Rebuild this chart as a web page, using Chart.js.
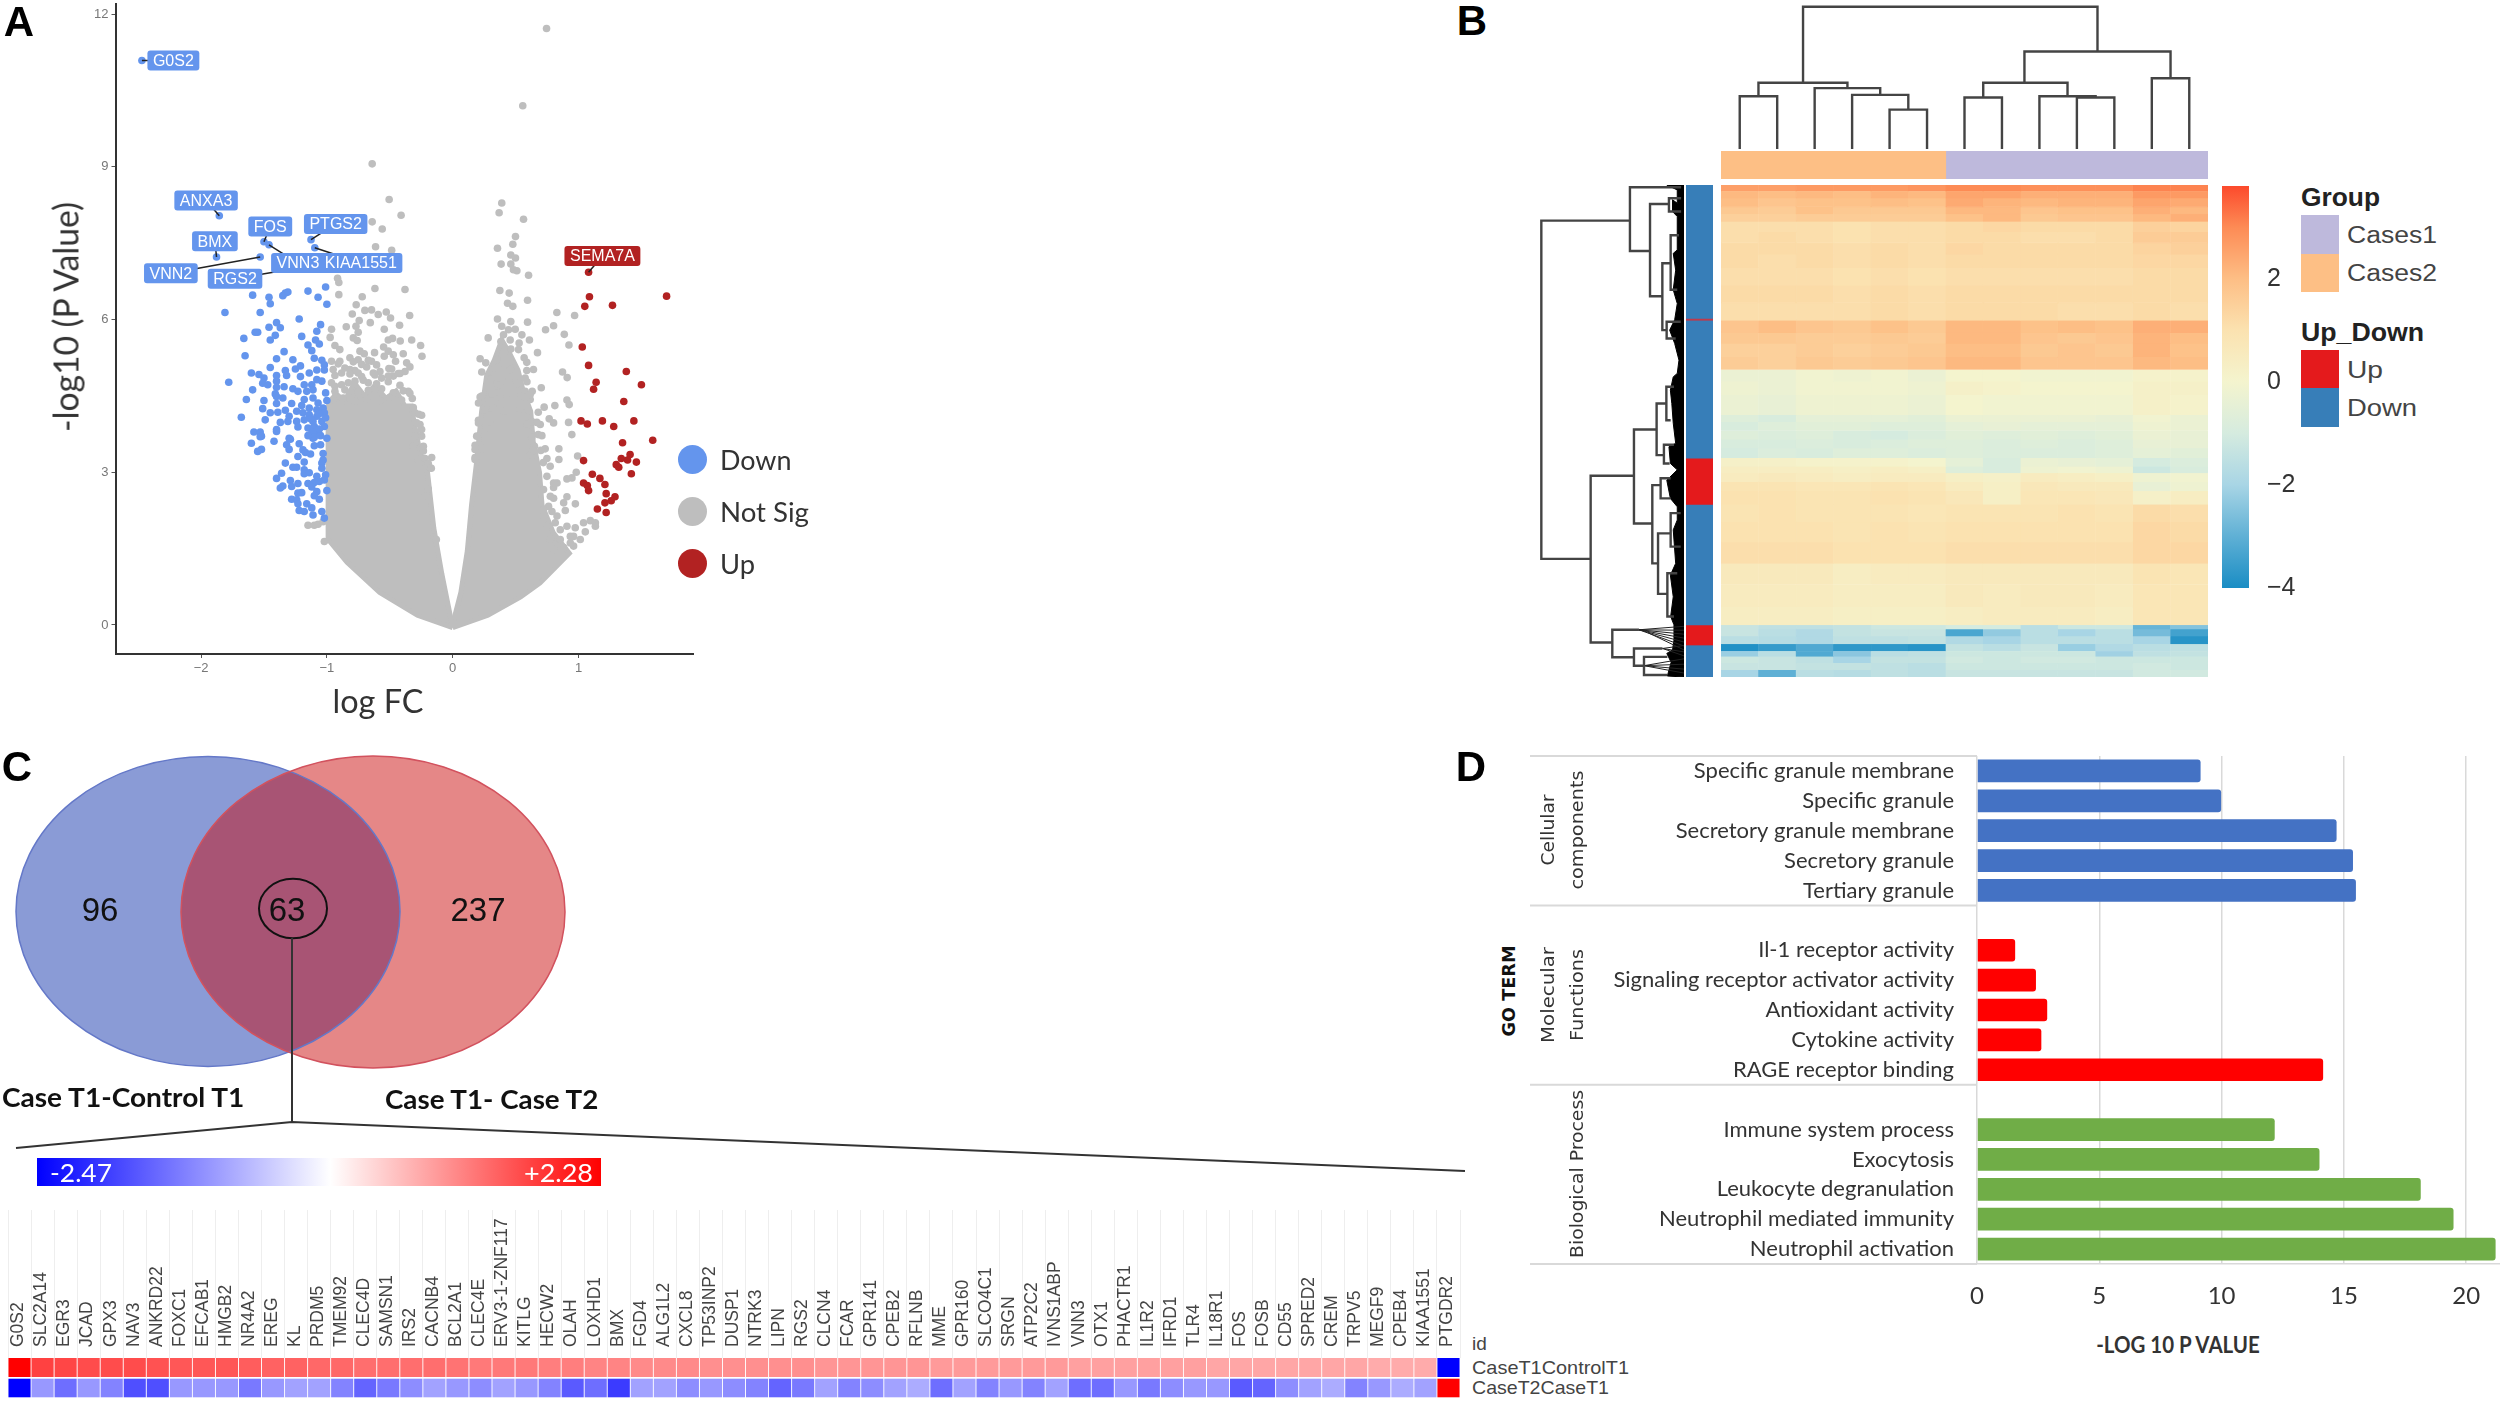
<!DOCTYPE html>
<html>
<head>
<meta charset="utf-8">
<title>Differential expression panels</title>
<script src="https://cdn.jsdelivr.net/npm/chart.js@4/dist/chart.umd.js"></script>
<style>
  body { margin: 0; background: #fff; }
  #page { position: relative; width: 2500px; height: 1401px; overflow: hidden; background: #fff; filter: blur(0.6px); }
  #page canvas { position: absolute; }
  .t { position: absolute; white-space: nowrap; line-height: 1; }
  .swatch { position: absolute; }
</style>
</head>
<body>
<div id="page"></div>
<script>
// panel A - volcano plot
const volcanoXTicks = [-2, -1, 0, 1];
const volcanoYTicks = [0, 3, 6, 9, 12];
const downPoints = [
  [-2.47,11.09],[-1.855,8.04],[-1.5,7.53],[-1.126,7.57],[-1.877,7.23],[-1.53,7.23],[-1.096,7.41],[-1.46,7.47],
  [-1.81,6.14],[-1.59,6.48],[-1.53,6.14],[-1.46,6.44],[-1.45,6.31],[-1.35,6.47],[-1.33,6.52],[-1.31,6.54],
  [-1.15,6.56],[-1.07,6.44],[-1.01,6.64],[-1,6.3],[-1.22,6.01],[-1.4,5.94],[-1.37,5.84],[-1.46,5.85],
  [-1.55,5.75],[-1.57,5.75],[-1.66,5.63],[-1.45,5.6],[-1.41,5.69],[-1.2,5.67],[-1.08,5.77],[-1.05,5.9],
  [-1.09,5.6],[-1.06,5.52],[-1.15,5.5],[-1.12,5.39],[-1.34,5.37],[-1.65,5.29],[-1.4,5.23],[-1.27,5.21],
  [-1.1,5.24],[-1.04,5.2],[-1.02,5.11],[-1.45,5.06],[-1.21,5.09],[-1.25,5.03],[-1.33,5],[-1.6,4.95],
  [-1.54,4.92],[-1.32,4.9],[-1.5,4.85],[-1.4,4.9],[-1.78,4.77],[-1.14,4.95],[-1.08,5.01],[-1.02,5.01],
  [-1.21,4.88],[-1.51,4.75],[-1.47,4.72],[-1.4,4.79],[-1.4,4.67],[-1.34,4.68],[-1.59,4.62],[-1.27,4.64],
  [-1.23,4.59],[-1.18,4.72],[-1.12,4.72],[-1.08,4.82],[-1.04,4.79],[-1.11,4.62],[-1.16,4.59],[-1.41,4.54],
  [-1.4,4.49],[-1.18,4.43],[-1.64,4.43],[-1.5,4.41],[-1.35,4.46],[-1.4,4.35],[-1.28,4.35],[-1.11,4.46],
  [-1.01,4.56],[-1,4.41],[-1.2,4.31],[-1.07,4.36],[-1.51,4.25],[-1.45,4.17],[-1.39,4.18],[-1.33,4.22],
  [-1.68,4.08],[-1.49,4.03],[-1.3,4.1],[-1.24,4.2],[-1.14,4.26],[-1.08,4.23],[-1.03,4.26],[-1.19,4.17],
  [-1.14,4.13],[-1.08,4.1],[-1.02,4.17],[-1.37,3.98],[-1.31,4],[-1.24,4],[-1.18,4.03],[-1.11,4],
  [-1.04,4],[-1.01,4.07],[-1.23,3.89],[-1.15,3.87],[-1.1,3.9],[-1.4,3.84],[-1.58,3.79],[-1.53,3.79],
  [-1.52,3.71],[-1.4,3.8],[-1.12,3.77],[-1.08,3.8],[-1.3,3.67],[-1.11,3.67],[-1.53,3.7],[-1.6,3.57],
  [-1.42,3.61],[-1.55,3.41],[-1.52,3.45],[-1.29,3.65],[-1.32,3.54],[-1.3,3.45],[-1.22,3.56],[-1.11,3.78],
  [-1.1,3.69],[-1,3.67],[-1.1,3.52],[-1.05,3.54],[-1.03,3.37],[-1.19,3.44],[-1.17,3.39],[-1.13,3.36],
  [-1.23,3.31],[-1.03,3.24],[-1.33,3.18],[-1.18,3.2],[-1.04,3.18],[-1.04,3.08],[-1.27,3.1],[-1.24,3.1],
  [-1.18,3.05],[-1.36,2.98],[-1.18,2.97],[-1.14,2.99],[-1.08,2.92],[-1.4,2.88],[-1.29,2.84],[-1.01,2.95],
  [-1.02,2.85],[-1.23,2.78],[-1.15,2.78],[-1.1,2.8],[-1.06,2.82],[-1.28,2.72],[-1.12,2.71],[-1.35,2.73],
  [-1.37,2.69],[-1.08,2.62],[-1,2.64],[-1.23,2.59],[-1.2,2.6],[-1.1,2.54],[-1.28,2.47],[-1.06,2.47],
  [-1.24,2.46],[-1.23,2.38],[-1.16,2.38],[-1.12,2.3],[-1.22,2.25],[-1.18,2.23],[-1.04,2.23],[-1.11,2.16],
  [-1.02,2.1],[-1.02,3.9],[-1.05,3.72],[-1.15,3.72],[-1.06,3.85],[-1.13,4.05],[-1.06,4.15]
];
const upPoints = [
  [1.08,6.93],[1.087,6.45],[1.05,6.26],[1.27,6.28],[1.7,6.46],[1.03,5.46],[1.08,5.1],[1.38,4.98],
  [1.5,4.72],[1.14,4.77],[1.12,4.63],[1.36,4.39],[1.02,4.01],[1.07,3.95],[1.19,4.01],[1.28,3.9],
  [1.44,4.01],[1.59,3.63],[1.35,3.58],[1.04,3.23],[1.41,3.35],[1.34,3.27],[1.39,3.24],[1.46,3.2],
  [1.3,3.15],[1.32,3.1],[1.42,2.97],[1.11,2.96],[1.17,2.88],[1.21,2.76],[1.04,2.79],[1.07,2.74],
  [1.08,2.64],[1.22,2.58],[1.29,2.52],[1.26,2.44],[1.21,2.4],[1.15,2.28],[1.22,2.21]
];
const notSigPoints = [
  [0.746,11.72],[0.557,10.2],[-0.64,9.06],[-0.505,8.36],[-0.41,8.05],[-0.64,7.92],[-0.56,7.78],[-0.613,7.43],
  [-0.485,7.36],[-0.915,6.81],[-0.905,6.73],[-0.618,6.61],[-0.379,6.59],[-0.905,6.49],[-0.719,6.45],[-0.767,6.29],
  [-0.698,6.18],[-0.645,6.19],[-0.592,6.1],[-0.528,6.15],[-0.494,6.03],[-0.342,6.08],[-0.798,6.11],[-0.743,5.98],
  [-0.655,5.94],[-0.422,5.89],[-0.544,5.81],[-0.846,5.86],[-0.963,5.81],[-0.974,5.65],[-0.769,5.87],[-0.751,5.75],
  [-0.79,5.64],[-0.759,5.59],[-0.512,5.6],[-0.478,5.63],[-0.417,5.58],[-0.326,5.6],[-0.255,5.49],[-0.244,5.28],
  [-0.936,5.49],[-0.897,5.41],[-0.737,5.38],[-0.703,5.33],[-0.621,5.35],[-0.549,5.46],[-0.512,5.38],[-0.472,5.31],
  [-0.544,5.28],[-0.393,5.33],[-0.454,5.18],[-0.366,5.15],[-0.34,5.07],[-0.507,5.04],[-0.379,4.98],[-0.419,4.94],
  [-0.472,4.89],[-0.605,5.11],[-0.671,5.2],[-0.751,5.21],[-0.817,5.25],[-0.963,5.18],[-0.897,5.18],[-0.95,5.02],
  [-0.883,4.95],[-0.817,5.02],[-0.751,4.95],[-0.631,4.95],[-0.565,4.85],[-0.671,4.76],[-0.83,4.76],[-0.936,4.69],
  [-0.353,4.59],[-0.313,4.27],[-0.247,4.12],[-0.247,3.84],[-0.247,3.71],[-0.167,3.29],[-0.18,3.09],[-0.3,3.58],
  [-0.287,3.74],[-0.233,3.42],[-1.15,1.96],[-1.1,1.96],[-1.07,1.98],[-1.03,2.03],[-1.02,1.64],
  [-0.963,4.76],[-0.883,4.72],[-0.777,4.79],[-0.711,4.81],[-0.605,4.74],[-0.512,4.78],[-0.419,4.71],
  [-0.936,4.59],[-0.857,4.62],[-0.751,4.57],[-0.671,4.61],[-0.565,4.64],[-0.472,4.56],[-0.393,4.6],[-0.34,4.55],
  [-0.95,4.43],[-0.87,4.46],[-0.777,4.4],[-0.684,4.44],[-0.578,4.41],[-0.499,4.47],[-0.406,4.42],[-0.321,4.45],
  [-0.857,5.05],[-0.777,5],[-0.684,5.07],[-0.578,4.98],[-0.485,5.03],[-0.91,5.13],[-0.79,5.17],[-0.724,5.12],[-0.645,5.18],
  [-0.936,4.9],[-0.817,4.93],[-0.724,4.88],[-0.618,4.91],[-0.512,4.89],[-0.432,4.94],
  [-0.3,4.17],[-0.27,4.14],[-0.287,3.97],[-0.26,3.94],[-0.3,3.71],[-0.313,3.51],[-0.233,3.51],[-0.273,3.25],[-0.22,3.27],
  [-0.194,3.17],[-0.17,3.08],[-0.216,2.54],[-0.194,2.67],[-0.15,1.72],[-0.13,1.68],
  [0.39,8.29],[0.369,8.1],[0.563,7.97],[0.499,7.63],[0.478,7.48],[0.356,7.4],[0.462,7.27],[0.499,7.21],
  [0.385,7.09],[0.462,7.09],[0.483,6.98],[0.51,6.96],[0.603,6.87],[0.375,6.57],[0.449,6.52],[0.436,6.32],
  [0.478,6.26],[0.595,6.38],[0.828,6.14],[0.969,6.08],[0.356,6.01],[0.462,5.96],[0.595,5.95],[0.802,5.88],
  [0.738,5.8],[0.39,5.87],[0.443,5.8],[0.497,5.81],[0.887,5.71],[0.55,5.7],[0.282,5.64],[0.404,5.7],
  [0.383,5.57],[0.457,5.6],[0.528,5.54],[0.61,5.6],[0.462,5.42],[0.523,5.41],[0.924,5.5],[0.674,5.35],
  [0.568,5.25],[0.589,5.16],[0.218,5.23],[0.263,5.15],[0.35,5.21],[0.457,5.21],[0.231,4.97],[0.337,5.05],
  [0.404,5.02],[0.457,5.02],[0.642,5.02],[0.589,5],[0.873,4.97],[0.91,4.86],[0.303,4.83],[0.576,4.85],
  [0.704,4.66],[0.632,4.59],[0.576,4.59],[0.364,4.69],[0.218,4.48],[0.205,4.36],[0.908,4.42],[0.926,4.33],
  [0.727,4.28],[0.68,4.18],[0.812,4.31],[0.59,4.23],[0.616,4.43],[0.258,4.2],[0.767,4.05],[0.802,3.97],
  [0.921,3.98],[0.205,4.02],[0.696,3.94],[0.632,3.99],[0.947,3.74],[0.258,3.73],[0.63,3.74],[0.178,3.53],
  [0.68,3.74],[0.65,3.51],[0.7,3.43],[0.844,3.46],[0.616,3.35],[0.844,3.25],[0.993,3.32],[0.72,3.19],
  [0.775,3.12],[0.178,3.29],[0.982,3],[0.948,2.89],[0.908,2.87],[0.829,2.79],[0.802,2.7],[0.908,2.52],
  [0.802,2.49],[0.882,2.4],[0.975,2.38],[0.762,2.33],[0.895,2.25],[1.04,2.01],[1.094,2.05],[1.134,2.01],
  [1.134,1.94],[1.054,1.83],[0.974,1.91],[1.014,1.68],[0.935,1.74],[0.855,1.87],[0.815,2.01],[0.749,1.94],
  [0.855,1.68],[0.961,1.55],[0.882,1.52],[0.802,1.48],[0.776,1.68],[0.722,2.14],[0.789,2.23],
  [0.298,4.76],[0.377,4.72],[0.444,4.79],[0.51,4.74],[0.59,4.78],[0.231,4.5],[0.311,4.54],[0.377,4.47],[0.483,4.52],[0.576,4.48],[0.616,4.53],
  [0.258,4.23],[0.324,4.26],[0.404,4.2],[0.536,4.24],[0.603,4.21],[0.205,3.97],[0.298,3.99],[0.589,3.95],[0.669,3.98],
  [0.191,3.71],[0.258,3.73],[0.629,3.69],[0.709,3.72],[0.178,3.45],[0.245,3.47],[0.642,3.43],[0.735,3.46],[0.178,3.25],[0.749,3.27],
  [0.749,2.92],[0.802,2.79],[0.722,2.66],[0.776,2.53],[0.722,2.27],[0.829,2.14],[0.908,1.94],[0.961,1.74],[0.935,1.61]
];
// the dense grey mass of each wing, outline
const notSigLeftWing = [
  [0,-0.05],[-0.28,0.19],[-0.58,0.64],[-0.84,1.23],[-0.99,1.68],[-0.99,4.3],[-0.93,4.55],[-0.86,4.4],[-0.78,4.75],
  [-0.7,4.5],[-0.62,4.7],[-0.53,4.45],[-0.45,4.6],[-0.38,4.3],[-0.33,4.3],[-0.3,3.9],[-0.26,3.4],[-0.2,3],[-0.15,1.9],
  [-0.086,1],[-0.02,0.19],[0,-0.05]
];
const notSigRightWing = [
  [0,-0.05],[0.28,0.19],[0.54,0.55],[0.695,0.83],[0.8,1.09],[0.927,1.41],[0.8,1.81],[0.71,2.36],[0.69,3],
  [0.64,3.6],[0.62,4.2],[0.56,4.6],[0.52,5],[0.45,5.35],[0.39,5.6],[0.33,5.2],[0.27,4.9],[0.23,4.2],[0.19,3.2],[0.15,2.36],
  [0.116,1.45],[0.065,0.64],[0.013,0.14],[0,-0.05]
];
const geneNames = ["G0S2","ANXA3","FOS","PTGS2","BMX","VNN3","KIAA1551","VNN2","RGS2","SEMA7A"];
const geneBoxX = [-2.22,-1.96,-1.45,-0.93,-1.89,-1.23,-0.73,-2.24,-1.73,1.19];
const geneBoxY = [11.09,8.34,7.83,7.88,7.54,7.11,7.11,6.91,6.8,7.25];
const genePointX = [-2.47,-1.855,-1.5,-1.126,-1.877,-1.46,-1.096,-1.53,-1.38,1.08];
const genePointY = [11.09,8.04,7.53,7.57,7.23,7.47,7.41,7.23,6.95,6.93];

// panel B - clustered heat map
const heatColumns = ["s1","s2","s3","s4","s5","s6","s7","s8","s9","s10","s11","s12","s13"];
const heatRowEdges = [0,1.2,2.7,4.5,5.9,7.4,9.5,11.8,14.1,16.8,20.4,24,27.5,30,32.2,34.9,37.5,39.9,42.6,46.7,48.1,49.9,
  51.7,53.5,55.4,57.2,58.5,60.3,62.2,64.9,68.5,72.6,76.9,81.2,85.7,89.4,90.3,91.7,93.3,94.7,95.8,97.1,98.5,100];
const heatValues = [
  [2.6,2.6,2.7,2.7,2.7,2.8,3,3,2.9,2.9,2.9,3.1,3.1],
  [2.1,2,2.1,2,2.2,2.1,2.5,2.5,2.3,2.3,2.3,2.7,2.7],
  [2,1.8,1.9,1.9,2,1.9,2.4,2.2,2.1,2.2,2.2,2.5,2.4],
  [1.7,1.6,1.9,1.7,1.7,1.7,2.1,2.1,1.8,1.9,1.9,2.3,2.1],
  [1.5,1.5,1.6,1.6,1.6,1.6,1.9,2.1,1.7,1.8,1.8,2.1,2.3],
  [1.1,1.1,1.1,1,1.1,1.1,1.2,1.3,1.2,1.2,1.2,1.5,1.4],
  [1.1,1.2,1.1,1,1.1,1.1,1.2,1.2,1.1,1.1,1.2,1.6,1.6],
  [1.2,1.2,1.2,1.1,1.2,1.1,1.3,1.2,1.2,1.2,1.2,1.4,1.5],
  [1.2,1.1,1.2,1.1,1.2,1.1,1.2,1.2,1.2,1.2,1.2,1.3,1.3],
  [1.1,1.1,1.1,1,1.1,1,1.1,1.1,1.1,1.1,1.1,1.2,1.2],
  [1.2,1.2,1.2,1.1,1.2,1.1,1.2,1.2,1.2,1.2,1.2,1.2,1.2],
  [1.1,1.1,1.1,1.1,1.2,1.1,1.2,1.2,1.2,1.1,1.1,1.2,1.1],
  [1.8,2,1.8,1.7,1.9,1.7,2.1,2.1,1.9,2,1.9,2.3,2.3],
  [1.7,1.7,1.6,1.6,1.7,1.6,2.1,2.1,1.8,1.7,1.8,2.2,2],
  [1.5,1.5,1.6,1.5,1.6,1.7,2,2,1.7,1.8,1.7,2.2,1.9],
  [1.6,1.5,1.7,1.6,1.7,1.8,2.1,2.1,1.8,1.8,1.8,2.1,2],
  [-0.3,-0.3,-0.1,-0.2,-0.1,-0.3,0,0,-0.1,-0.1,-0.1,0.1,0.1],
  [-0.2,-0.3,-0.1,-0.1,-0.1,-0.2,0.2,0.1,0,0,0,0.2,0.2],
  [-0.3,-0.4,-0.2,-0.2,-0.2,-0.3,0,-0.1,-0.1,-0.1,-0.1,0.2,0.1],
  [-0.7,-0.9,-0.5,-0.5,-0.5,-0.6,-0.3,-0.3,-0.3,-0.3,-0.4,-0.1,-0.3],
  [-0.9,-0.7,-0.6,-0.6,-0.7,-0.7,-0.5,-0.4,-0.5,-0.5,-0.5,-0.2,-0.3],
  [-0.7,-0.8,-0.7,-0.9,-1,-0.8,-0.6,-0.7,-0.6,-0.7,-0.6,-0.3,-0.4],
  [-0.9,-0.9,-0.8,-0.9,-0.8,-0.7,-0.7,-0.8,-0.7,-0.8,-0.7,-0.4,-0.4],
  [-1,-0.8,-0.9,-0.7,-0.7,-0.8,-0.7,-0.8,-0.8,-0.8,-0.7,-0.5,-0.6],
  [0.2,0.2,0.1,0.1,0.1,0,-0.5,-0.9,-0.3,-0.4,-0.5,-1,-0.8],
  [0.4,0.4,0.4,0.3,0.4,0.3,-0.7,-0.9,-0.2,-0.1,-0.2,-1.2,-0.9],
  [0.5,0.6,0.5,0.4,0.5,0.5,0.3,0.2,0.5,0.4,0.3,-0.2,-0.1],
  [0.9,0.9,0.8,0.8,0.9,0.8,0.5,0.3,0.7,0.6,0.6,-0.4,-0.2],
  [1,1,0.9,0.9,1,0.9,0.7,0.3,0.8,0.8,0.7,0.2,0.4],
  [0.9,1,0.9,0.9,0.9,0.8,0.9,0.9,0.9,1,0.9,1.2,1.1],
  [1,1,1,0.9,1,0.9,1,1,1,1,1,1.3,1.2],
  [1.1,1.1,1.1,1,1,1,1.1,1.1,1.1,1.1,1.1,1.3,1.3],
  [0.6,0.6,0.6,0.4,0.5,0.5,0.6,0.6,0.6,0.6,0.6,0.9,0.8],
  [0.5,0.5,0.5,0.4,0.4,0.4,0.6,0.5,0.6,0.6,0.5,0.8,0.8],
  [0.4,0.4,0.4,0.3,0.3,0.3,0.4,0.5,0.5,0.5,0.4,0.8,0.8],
  [-1.3,-1.5,-1.5,-1.4,-1.2,-1.2,-1,-1,-1.6,-1.2,-1.2,-2.9,-2.5],
  [-1.3,-1.6,-1.8,-1.4,-1.3,-1.3,-3.3,-2.3,-1.6,-2,-1.6,-2.7,-3.4],
  [-1.6,-1.7,-1.8,-1.5,-1.5,-1.4,-1.8,-2,-1.6,-1.6,-1.6,-2,-3.8],
  [-3.9,-3.6,-3.2,-3.7,-3.7,-3.8,-1.4,-1.6,-1.3,-2.2,-1.8,-1.6,-1.5],
  [-2.2,-1.6,-3.2,-2.4,-1.6,-1.5,-1.2,-1.2,-1.2,-1.2,-2.1,-1.5,-1.4],
  [-1.2,-1.3,-1.5,-2,-1.4,-1.4,-1.1,-1.2,-1.1,-1.1,-1.2,-1.2,-1.2],
  [-1.3,-1.3,-1.4,-1.4,-1.5,-1.6,-1.2,-1.2,-1.2,-1.2,-1.2,-1.1,-1.2],
  [-2,-3,-1.6,-1.7,-1.5,-1.6,-1.3,-1.3,-1.3,-1.3,-1.3,-1.1,-1.1]
];
const heatScaleValues = [-4,-3,-2,-1,0,1,2,3,3.8];
const heatScaleColors = ["#1a8dc4","#5fb0d5","#a8d5e5","#d5ebdf","#f4f4ce","#fbe2b0","#fdbe85","#fd8b55","#fc4a2c"];
const heatScaleTicks = [-4,-2,0,2];
const groupNames = ["Cases2","Cases1"];
const groupCounts = [6,7];
const groupColors = ["#fdbf85","#beb9dc"];
const upDownEdges = [0,27.1,27.5,55.5,64.9,89.4,93.5,100];
const upDownColors = ["#377eb8","#c0394a","#377eb8","#e41a1c","#377eb8","#e41a1c","#377eb8"];
// [left leaf, right leaf, left height, right height, join height]
const colMerges = [
  [4.5,5.5,0,0,88],[3.5,5,0,88,121],[2.5,4.25,0,121,136],[0.5,1.5,0,0,118],[1,3.375,118,136,148],
  [6.5,7.5,0,0,115],[9.5,10.5,0,0,115],[8.5,10,0,115,118],[7,9.25,115,118,148],[11.5,12.5,0,0,158],
  [8.1,12,148,158,218],[2.19,10.05,148,218,318]
];
const rowMerges = [
  [7.25,76,37.7,65.1,99.5],[0.47,13.4,2,23.7,37.7],[3.86,22.6,10.5,15.1,23.7],[2.7,5.4,2,2,10.5],
  [15.9,29.5,9.3,12.1,15.1],[10.2,21.3,3.5,4.7,9.3],[27.8,31.2,2.3,5.8,12.1],[59.1,93,34.9,50,65.1],
  [49.7,68.8,19.1,22.1,34.9],[44.4,54.9,12.3,14,19.1],[41,47.8,7,9.3,12.3],[52.8,56.6,7,10,14],
  [61,76.9,16.3,18.1,22.1],[59.6,63.7,9.3,9.3,16.3],[70.8,83.1,9.3,11.6,18.1],[66.7,73.5,2.3,2.3,9.3],
  [78.9,87.7,4.7,7,11.6],[90.4,96,31.4,34.9,50],[94.2,97.7,15,27.9,34.9],[95.9,99.6,11.6,11.6,27.9]
];
// the solid black leaves of the row tree [height, row position]
const rowLeafBand = [
  [0,0],[0,100],[11.6,99.8],[9,97],[12,95.2],[8,94.5],[7,92.5],[7,89.4],
  [9.3,87.7],[7.5,83.7],[9.5,79.3],[5.8,76.9],[7.5,70.1],[4.7,68.1],[4.7,65.4],[9.5,63.7],[12,60],[4.7,57.9],
  [9.5,56.6],[10.5,53.2],[5.8,52.5],[7.5,48.4],[8.5,44.4],[9.5,41.7],[7.5,39],[4.7,38.3],[3.5,35.6],[6.5,32.2],
  [10,29.5],[6.5,27.4],[4.7,24.1],[7.5,21.3],[5.8,17.3],[7.5,13.9],[4.7,13.2],[4.7,6.4],[8,5.4],[8,3],
  [4.7,3.7],[4.7,1],[12,0],[0,0]
];
// thin leaves fanning out of the low clusters [start height, start row, end row]
const rowFanLines = [
  [31.4,90.4,89.7],[31.4,90.4,90.5],[31.4,90.4,91.3],[31.4,90.4,92.1],[31.4,90.4,92.9],[31.4,90.4,93.7],[25,91,94.5],
  [15,94.2,93.6],[15,94.2,94.9],[15,94.2,95.7],[27.9,97.7,96.3],[27.9,97.7,97.4],[27.9,97.7,98.4],[27.9,97.7,99.2]
];

// panel C - venn counts and the strip of 63 shared genes
const vennCounts = [96,63,237];
const stripGenes = ["G0S2","SLC2A14","EGR3","JCAD","GPX3","NAV3","ANKRD22","FOXC1","EFCAB1","HMGB2","NR4A2","EREG","KL","PRDM5",
  "TMEM92","CLEC4D","SAMSN1","IRS2","CACNB4","BCL2A1","CLEC4E","ERV3-1-ZNF117","KITLG","HECW2","OLAH","LOXHD1","BMX","FGD4",
  "ALG1L2","CXCL8","TP53INP2","DUSP1","NTRK3","LIPN","RGS2","CLCN4","FCAR","GPR141","CPEB2","RFLNB","MME","GPR160","SLCO4C1",
  "SRGN","ATP2C2","IVNS1ABP","VNN3","OTX1","PHACTR1","IL1R2","IFRD1","TLR4","IL18R1","FOS","FOSB","CD55","SPRED2","CREM",
  "TRPV5","MEGF9","CPEB4","KIAA1551","PTGDR2"];
const stripCaseT1 = [2.28,1.7,1.65,1.6,1.6,1.6,1.55,1.5,1.5,1.5,1.45,1.4,1.4,1.35,1.35,1.3,1.3,1.3,1.3,1.25,1.2,1.2,1.2,1.15,1.15,
  1.1,1.1,1.05,1.05,1.05,1,1,1,1,1,0.95,0.95,0.95,0.95,0.95,0.9,0.9,0.9,0.9,0.9,0.9,0.85,0.85,0.85,0.85,0.85,0.85,0.8,0.8,0.8,0.8,
  0.8,0.8,0.8,0.75,0.75,0.75,-2.47];
const stripCaseT2 = [-2.47,-1,-1.4,-1,-1.2,-1.7,-1.7,-1,-1,-1,-1.3,-1,-0.9,-0.9,-1.2,-1.5,-1.3,-1.1,-0.9,-1,-1.1,-0.9,-1,-1.2,-1.6,
  -1.4,-1.9,-0.9,-0.9,-1.1,-1,-1.1,-1.2,-1.5,-1.3,-0.9,-1.2,-1.1,-0.9,-0.8,-1.4,-0.9,-1.2,-1,-1.2,-0.9,-1.4,-1.4,-1,-1.3,-1.1,-1,-1,
  -1.6,-1.5,-1.1,-0.9,-0.8,-1.2,-1,-0.8,-0.9,2.28];
const stripMin = -2.47;
const stripMax = 2.28;

// panel D - GO terms, empty names keep the gaps between the groups
const goTerms = ["Specific granule membrane","Specific granule","Secretory granule membrane","Secretory granule","Tertiary granule","",
  "Il-1 receptor activity","Signaling receptor activator activity","Antioxidant activity","Cytokine activity","RAGE receptor binding","",
  "Immune system process","Exocytosis","Leukocyte degranulation","Neutrophil mediated immunity","Neutrophil activation"];
const goValues = [9.14,9.98,14.7,15.37,15.49,null,1.56,2.41,2.87,2.63,14.15,null,12.17,14,18.14,19.48,21.2];
const goColors = ["#4472c4","#4472c4","#4472c4","#4472c4","#4472c4","#fff","#ff0000","#ff0000","#ff0000","#ff0000","#ff0000","#fff",
  "#70ad47","#70ad47","#70ad47","#70ad47","#70ad47"];
const goTicks = [0,5,10,15,20];
const goDividers = [-0.5,4.5,10.5,16.5];

Chart.defaults.animation = false;
Chart.defaults.responsive = false;
Chart.defaults.devicePixelRatio = 1;
Chart.defaults.plugins.legend.display = false;
Chart.defaults.plugins.tooltip.enabled = false;
Chart.defaults.font.family = "'Liberation Sans', sans-serif";

const page = document.getElementById("page");

function mount(left, top, width, height) {
  const c = document.createElement("canvas");
  c.width = width;
  c.height = height;
  c.style.left = left + "px";
  c.style.top = top + "px";
  page.appendChild(c);
  return c.getContext("2d");
}

// forces an axis to a set size so the plot area lands where it is in the picture
const fixAxis = (w, h) => (s) => {
  if (w) s.width = w;
  if (h) s.height = h;
  s.paddingLeft = s.paddingRight = s.paddingTop = s.paddingBottom = 0;
};

// text helper: w squeezes the text to the width it has in the picture
const measure = document.createElement("canvas").getContext("2d");
function txt(str, x, y, o) {
  const d = document.createElement("div");
  d.className = "t";
  d.textContent = str;
  const size = o.size || 20;
  const weight = o.weight || "normal";
  const font = o.font || "Lato";
  d.style.font = weight + " " + size + "px/1 " + font;
  d.style.color = o.color || "#222";
  d.style.left = x + "px";
  d.style.top = y + "px";
  measure.font = weight + " " + size + "px " + font;
  const sx = o.w ? o.w / measure.measureText(str).width : 1;
  const anchor = o.left ? "0" : "-50%";
  d.style.transformOrigin = o.left ? "0 50%" : "50% 50%";
  d.style.transform = "translate(" + anchor + ",-50%) rotate(" + (o.rot || 0) + "deg) scaleX(" + sx + ")";
  page.appendChild(d);
}
function box(x, y, w, h, color, radius) {
  const d = document.createElement("div");
  d.className = "swatch";
  d.style.cssText = "left:" + x + "px;top:" + y + "px;width:" + w + "px;height:" + h + "px;background:" + color +
    (radius ? ";border-radius:" + radius + "px" : "");
  page.appendChild(d);
}
const pts = (list) => list.map((p) => ({ x: p[0], y: p[1] }));

function hexToRgb(h) {
  return [parseInt(h.slice(1, 3), 16), parseInt(h.slice(3, 5), 16), parseInt(h.slice(5, 7), 16)];
}
function heatColor(v) {
  let i = 0;
  while (i < heatScaleValues.length - 2 && v > heatScaleValues[i + 1]) i++;
  const t = Math.min(1, Math.max(0, (v - heatScaleValues[i]) / (heatScaleValues[i + 1] - heatScaleValues[i])));
  const a = hexToRgb(heatScaleColors[i]);
  const b = hexToRgb(heatScaleColors[i + 1]);
  return "rgb(" + a.map((c, k) => Math.round(c + (b[k] - c) * t)).join(",") + ")";
}
function stripColor(v) {
  const t = v < 0 ? v / stripMin : v / stripMax;
  const c = Math.round(255 * (1 - t));
  return v < 0 ? "rgb(" + c + "," + c + ",255)" : "rgb(255," + c + "," + c + ")";
}

// ---------- panel A
const geneLabelPlugin = {
  id: "geneLabels",
  afterDatasetsDraw(chart) {
    const c = chart.ctx;
    const xs = chart.scales.x;
    const ys = chart.scales.y;
    c.save();
    c.font = "16px 'Liberation Sans'";
    c.textAlign = "center";
    c.textBaseline = "middle";
    geneNames.forEach((name, i) => {
      c.strokeStyle = "#222";
      c.lineWidth = 1.5;
      c.beginPath();
      c.moveTo(xs.getPixelForValue(geneBoxX[i]), ys.getPixelForValue(geneBoxY[i]));
      c.lineTo(xs.getPixelForValue(genePointX[i]), ys.getPixelForValue(genePointY[i]));
      c.stroke();
    });
    geneNames.forEach((name, i) => {
      const w = c.measureText(name).width + 11;
      const cx = xs.getPixelForValue(geneBoxX[i]);
      const cy = ys.getPixelForValue(geneBoxY[i]);
      c.fillStyle = name === "SEMA7A" ? "#b22222" : "#6495ed";
      c.beginPath();
      c.roundRect(cx - w / 2, cy - 10, w, 20, 3);
      c.fill();
      c.fillStyle = "#fff";
      c.fillText(name, cx, cy + 1);
    });
    c.restore();
  }
};
new Chart(mount(0, 0, 760, 700), {
  type: "scatter",
  data: {
    datasets: [
      { data: pts(upPoints), backgroundColor: "#b22222", pointRadius: 3.8, borderWidth: 0 },
      { data: pts(downPoints), backgroundColor: "#6495ed", pointRadius: 3.8, borderWidth: 0 },
      { data: pts(notSigPoints), backgroundColor: "#bebebe", pointRadius: 3.8, borderWidth: 0 },
      { data: pts(notSigLeftWing), showLine: true, fill: "shape", backgroundColor: "#bebebe", borderColor: "#bebebe", borderWidth: 5, pointRadius: 0 },
      { data: pts(notSigRightWing), showLine: true, fill: "shape", backgroundColor: "#bebebe", borderColor: "#bebebe", borderWidth: 5, pointRadius: 0 }
    ]
  },
  options: {
    layout: { padding: { top: 4, right: 67 } },
    scales: {
      x: {
        type: "linear", min: -2.68, max: 1.91,
        afterBuildTicks: (s) => { s.ticks = volcanoXTicks.map((v) => ({ value: v })); },
        afterFit: fixAxis(0, 46),
        grid: { drawOnChartArea: false, tickLength: 4, color: "#555" },
        border: { color: "#333", width: 2 },
        ticks: { color: "#777", font: { size: 13 }, maxRotation: 0, callback: (v) => String(v).replace("-", "\u2212") }
      },
      y: {
        min: -0.57, max: 12.2,
        afterBuildTicks: (s) => { s.ticks = volcanoYTicks.map((v) => ({ value: v })); },
        afterFit: fixAxis(115.5, 0),
        grid: { drawOnChartArea: false, tickLength: 4, color: "#555" },
        border: { color: "#333", width: 2 },
        ticks: { color: "#777", font: { size: 13 } }
      }
    }
  },
  plugins: [geneLabelPlugin]
});
txt("A", 19, 22, { size: 42, weight: "bold", font: "'Liberation Sans'", color: "#000" });
txt("log FC", 378, 701, { size: 32, w: 91, color: "#333" });
txt("-log10 (P Value)", 65, 317, { size: 35, w: 232, rot: -90, color: "#333" });
["Down", "Not Sig", "Up"].forEach((name, i) => {
  const y = [459, 511, 563][i];
  box(678, y - 14.5, 29, 29, ["#6495ed", "#bebebe", "#b22222"][i], 15);
  txt(name, 720, y, { size: 27, left: true, w: [71.5, 89, 35][i], color: "#333" });
});

// ---------- panel B
function mergeDatasets(merges, horizontal) {
  return merges.map((m) => {
    const line = [[m[0], m[2]], [m[0], m[4]], [m[1], m[4]], [m[1], m[3]]];
    return {
      data: line.map((p) => (horizontal ? { x: p[1], y: p[0] } : { x: p[0], y: p[1] })),
      showLine: true, borderColor: "#444", borderWidth: 2.4, pointRadius: 0
    };
  });
}
const hiddenAxis = (extra) => Object.assign({ display: false, grid: { display: false } }, extra);

new Chart(mount(1721, 0, 487, 149), {
  type: "scatter",
  data: { datasets: mergeDatasets(colMerges, false) },
  options: { scales: { x: hiddenAxis({ type: "linear", min: 0, max: 13 }), y: hiddenAxis({ min: 0, max: 333 }) } }
});
const rowDatasets = mergeDatasets(rowMerges, true);
rowFanLines.forEach((f) => {
  rowDatasets.push({ data: [{ x: f[0], y: f[1] }, { x: 0, y: f[2] }], showLine: true, borderColor: "#222", borderWidth: 1, pointRadius: 0 });
});
rowDatasets.push({
  data: rowLeafBand.map((p) => ({ x: p[0], y: p[1] })), showLine: true, fill: "shape",
  backgroundColor: "#000", borderColor: "#000", borderWidth: 1, pointRadius: 0
});
new Chart(mount(1530, 185, 154, 492), {
  type: "scatter",
  data: { datasets: rowDatasets },
  options: { scales: { x: hiddenAxis({ type: "linear", reverse: true, min: 0, max: 107.4 }), y: hiddenAxis({ reverse: true, min: 0, max: 100 }) } }
});
new Chart(mount(1721, 151, 487, 28), {
  type: "bar",
  data: {
    labels: ["Group"],
    datasets: groupNames.map((name, i) => ({ label: name, data: [groupCounts[i]], backgroundColor: groupColors[i], barPercentage: 1, categoryPercentage: 1 }))
  },
  options: {
    indexAxis: "y",
    scales: { x: hiddenAxis({ stacked: true, min: 0, max: 13 }), y: hiddenAxis({ stacked: true }) }
  }
});
new Chart(mount(1686, 185, 27, 492), {
  type: "bar",
  data: {
    labels: ["Up_Down"],
    datasets: upDownColors.map((color, i) => ({
      data: [[upDownEdges[i], upDownEdges[i + 1]]], backgroundColor: color, grouped: false, barPercentage: 1, categoryPercentage: 1
    }))
  },
  options: { scales: { x: hiddenAxis({}), y: hiddenAxis({ reverse: true, min: 0, max: 100 }) } }
});
new Chart(mount(1721, 185, 487, 492), {
  type: "bar",
  data: {
    labels: heatColumns,
    datasets: heatValues.map((row, r) => {
      const colors = row.map(heatColor);
      return {
        data: row.map(() => [heatRowEdges[r], heatRowEdges[r + 1]]),
        backgroundColor: colors, borderColor: colors, borderWidth: 0.6, borderSkipped: false,
        grouped: false, barPercentage: 1, categoryPercentage: 1
      };
    })
  },
  options: { scales: { x: hiddenAxis({}), y: hiddenAxis({ reverse: true, min: 0, max: 100 }) } }
});
// colour key, the gradient comes from the same stops as the cells
new Chart(mount(2222, 170, 76, 435), {
  type: "bar",
  data: {
    labels: ["key"],
    datasets: [{
      data: [[-4, 3.8]], barPercentage: 1, categoryPercentage: 1,
      backgroundColor: (ctx) => {
        const area = ctx.chart.chartArea;
        if (!area) return "#fff";
        const g = ctx.chart.ctx.createLinearGradient(0, area.bottom, 0, area.top);
        heatScaleValues.forEach((v, i) => g.addColorStop((v + 4) / 7.8, heatScaleColors[i]));
        return g;
      }
    }]
  },
  options: {
    layout: { padding: { top: 16, bottom: 17 } },
    scales: {
      x: hiddenAxis({}),
      y: {
        position: "right", min: -4, max: 3.8,
        afterBuildTicks: (s) => { s.ticks = heatScaleTicks.map((v) => ({ value: v })); },
        afterFit: fixAxis(49, 0),
        grid: { display: false }, border: { display: false },
        ticks: { color: "#333", padding: 10, font: { size: 25 }, callback: (v) => String(v).replace("-", "\u2212") }
      }
    }
  }
});
txt("B", 1472, 21, { size: 42, weight: "bold", font: "'Liberation Sans'", color: "#000" });
const lib = "'Liberation Sans'";
txt("Group", 2301, 197, { size: 25, weight: "bold", font: lib, left: true, w: 79, color: "#222" });
box(2301, 215, 38, 39, groupColors[1]);
box(2301, 254, 38, 38, groupColors[0]);
txt("Cases1", 2347, 235, { size: 23, font: lib, left: true, w: 90, color: "#444" });
txt("Cases2", 2347, 273, { size: 23, font: lib, left: true, w: 90, color: "#444" });
txt("Up_Down", 2301, 332, { size: 25, weight: "bold", font: lib, left: true, w: 123, color: "#222" });
box(2301, 350, 38, 38, "#e41a1c");
box(2301, 388, 38, 39, "#377eb8");
txt("Up", 2347, 370, { size: 23, font: lib, left: true, w: 36, color: "#444" });
txt("Down", 2347, 408, { size: 23, font: lib, left: true, w: 70, color: "#444" });

// ---------- panel C
const vennPlugin = {
  id: "venn",
  beforeDatasetsDraw(chart) {
    const c = chart.ctx;
    const left = () => { c.beginPath(); c.ellipse(208, 171.5, 192, 155, 0, 0, Math.PI * 2); };
    const right = () => { c.beginPath(); c.ellipse(373, 172, 192, 156, 0, 0, Math.PI * 2); };
    c.save();
    left(); c.fillStyle = "#8a9bd6"; c.fill();
    right(); c.fillStyle = "#e58787"; c.fill();
    c.save(); left(); c.clip(); right(); c.fillStyle = "#a85474"; c.fill(); c.restore();
    left(); c.strokeStyle = "#6478c8"; c.lineWidth = 1.5; c.stroke();
    right(); c.strokeStyle = "#d2525e"; c.lineWidth = 1.5; c.stroke();
    c.beginPath(); c.ellipse(293, 168.5, 34, 29.7, 0, 0, Math.PI * 2);
    c.strokeStyle = "#111"; c.lineWidth = 2; c.stroke();
    c.restore();
  }
};
const connector = (list) => ({ data: pts(list), showLine: true, borderColor: "#333", borderWidth: 2, pointRadius: 0 });
new Chart(mount(0, 740, 1480, 440), {
  type: "scatter",
  data: {
    datasets: [
      connector([[292, 938], [292, 1122]]),
      connector([[16, 1148], [292, 1122], [1465, 1171]])
    ]
  },
  options: { scales: { x: hiddenAxis({ type: "linear", min: 0, max: 1480 }), y: hiddenAxis({ reverse: true, min: 740, max: 1180 }) } },
  plugins: [vennPlugin]
});
new Chart(mount(37, 1158, 564, 28), {
  type: "bar",
  data: {
    labels: ["scale"],
    datasets: [{
      data: [[stripMin, stripMax]], barPercentage: 1, categoryPercentage: 1,
      backgroundColor: (ctx) => {
        const area = ctx.chart.chartArea;
        if (!area) return "#fff";
        const g = ctx.chart.ctx.createLinearGradient(area.left, 0, area.right, 0);
        g.addColorStop(0, stripColor(stripMin));
        g.addColorStop(-stripMin / (stripMax - stripMin), "#fff");
        g.addColorStop(1, stripColor(stripMax));
        return g;
      }
    }]
  },
  options: { indexAxis: "y", scales: { x: hiddenAxis({ min: stripMin, max: stripMax }), y: hiddenAxis({}) } }
});
const stripRowEdges = [[0, 19], [20.7, 39.3]];
new Chart(mount(0, 1205, 1470, 194), {
  type: "bar",
  data: {
    labels: stripGenes,
    datasets: [stripCaseT1, stripCaseT2].map((row, r) => ({
      data: row.map(() => stripRowEdges[r]),
      backgroundColor: row.map(stripColor),
      grouped: false, barPercentage: 0.96, categoryPercentage: 1
    }))
  },
  options: {
    layout: { padding: { left: 8, right: 10, bottom: 1 } },
    scales: {
      x: {
        position: "top",
        afterFit: fixAxis(0, 153),
        grid: { drawOnChartArea: false, tickLength: 148, color: "#eeeeee" },
        border: { display: false },
        ticks: { autoSkip: false, minRotation: 90, maxRotation: 90, padding: -137, labelOffset: 20, color: "#444", font: { size: 17.5 } }
      },
      y: hiddenAxis({ reverse: true, min: 0, max: 40 })
    }
  }
});
txt("C", 17, 767, { size: 42, weight: "bold", font: lib, color: "#000" });
vennCounts.forEach((n, i) => {
  txt(String(n), [100, 287, 478][i], 909, { size: 33, font: lib, color: "#111" });
});
txt("Case T1-Control T1", 2, 1096, { size: 27, weight: "bold", left: true, w: 244, color: "#111" });
txt("Case T1- Case T2", 385, 1098, { size: 27, weight: "bold", left: true, w: 215, color: "#111" });
txt("-2.47", 50, 1172, { size: 25, left: true, w: 62, color: "#fff" });
txt("+2.28", 524, 1172, { size: 25, left: true, w: 69, color: "#fff" });
txt("id", 1472, 1343, { size: 19, font: lib, left: true, color: "#444" });
txt("CaseT1ControlT1", 1472, 1367, { size: 19, font: lib, left: true, w: 157, color: "#444" });
txt("CaseT2CaseT1", 1472, 1387, { size: 19, font: lib, left: true, w: 137, color: "#444" });

// ---------- panel D
const dividerPlugin = {
  id: "goDividers",
  afterDatasetsDraw(chart) {
    const c = chart.ctx;
    const ys = chart.scales.y;
    c.save();
    c.strokeStyle = "#d9d9d9";
    c.lineWidth = 2;
    goDividers.forEach((v) => {
      const y = ys.getPixelForValue(v);
      c.beginPath();
      c.moveTo(0, y);
      c.lineTo(chart.chartArea.left, y);
      c.stroke();
    });
    c.restore();
  }
};
new Chart(mount(1530, 740, 970, 590), {
  type: "bar",
  data: {
    labels: goTerms,
    datasets: [{ data: goValues, backgroundColor: goColors, barPercentage: 0.76, categoryPercentage: 1, borderRadius: 3 }]
  },
  options: {
    indexAxis: "y",
    layout: { padding: { top: 16 } },
    scales: {
      x: {
        min: 0, max: 21.38,
        afterBuildTicks: (s) => { s.ticks = goTicks.map((v) => ({ value: v })); },
        afterFit: fixAxis(0, 66),
        grid: { color: "#d9d9d9", lineWidth: 1.5, drawTicks: false },
        border: { color: "#d9d9d9", width: 1.5 },
        ticks: { color: "#333", padding: 18, maxRotation: 0, font: { family: "Lato", size: 24 } }
      },
      y: {
        afterFit: fixAxis(447, 0),
        grid: { display: false },
        border: { display: false },
        ticks: { autoSkip: false, color: "#333", padding: 15, font: { family: "Lato", size: 22 } }
      }
    }
  },
  plugins: [dividerPlugin]
});
txt("D", 1471, 767, { size: 42, weight: "bold", font: lib, color: "#000" });
const deja = "'DejaVu Sans'";
txt("GO TERM", 1509, 991, { size: 18, weight: "bold", font: deja, rot: -90, w: 91, color: "#111" });
txt("Cellular", 1548, 830, { size: 18, font: deja, rot: -90, w: 71, color: "#333" });
txt("components", 1577, 830, { size: 18, font: deja, rot: -90, w: 119, color: "#333" });
txt("Molecular", 1548, 995, { size: 18, font: deja, rot: -90, w: 96, color: "#333" });
txt("Functions", 1577, 995, { size: 18, font: deja, rot: -90, w: 92, color: "#333" });
txt("Biological Process", 1577, 1174, { size: 18, font: deja, rot: -90, w: 168, color: "#333" });
txt("-LOG 10 P VALUE", 2178, 1345, { size: 22, weight: "bold", w: 165, color: "#333" });
</script>
</body>
</html>
